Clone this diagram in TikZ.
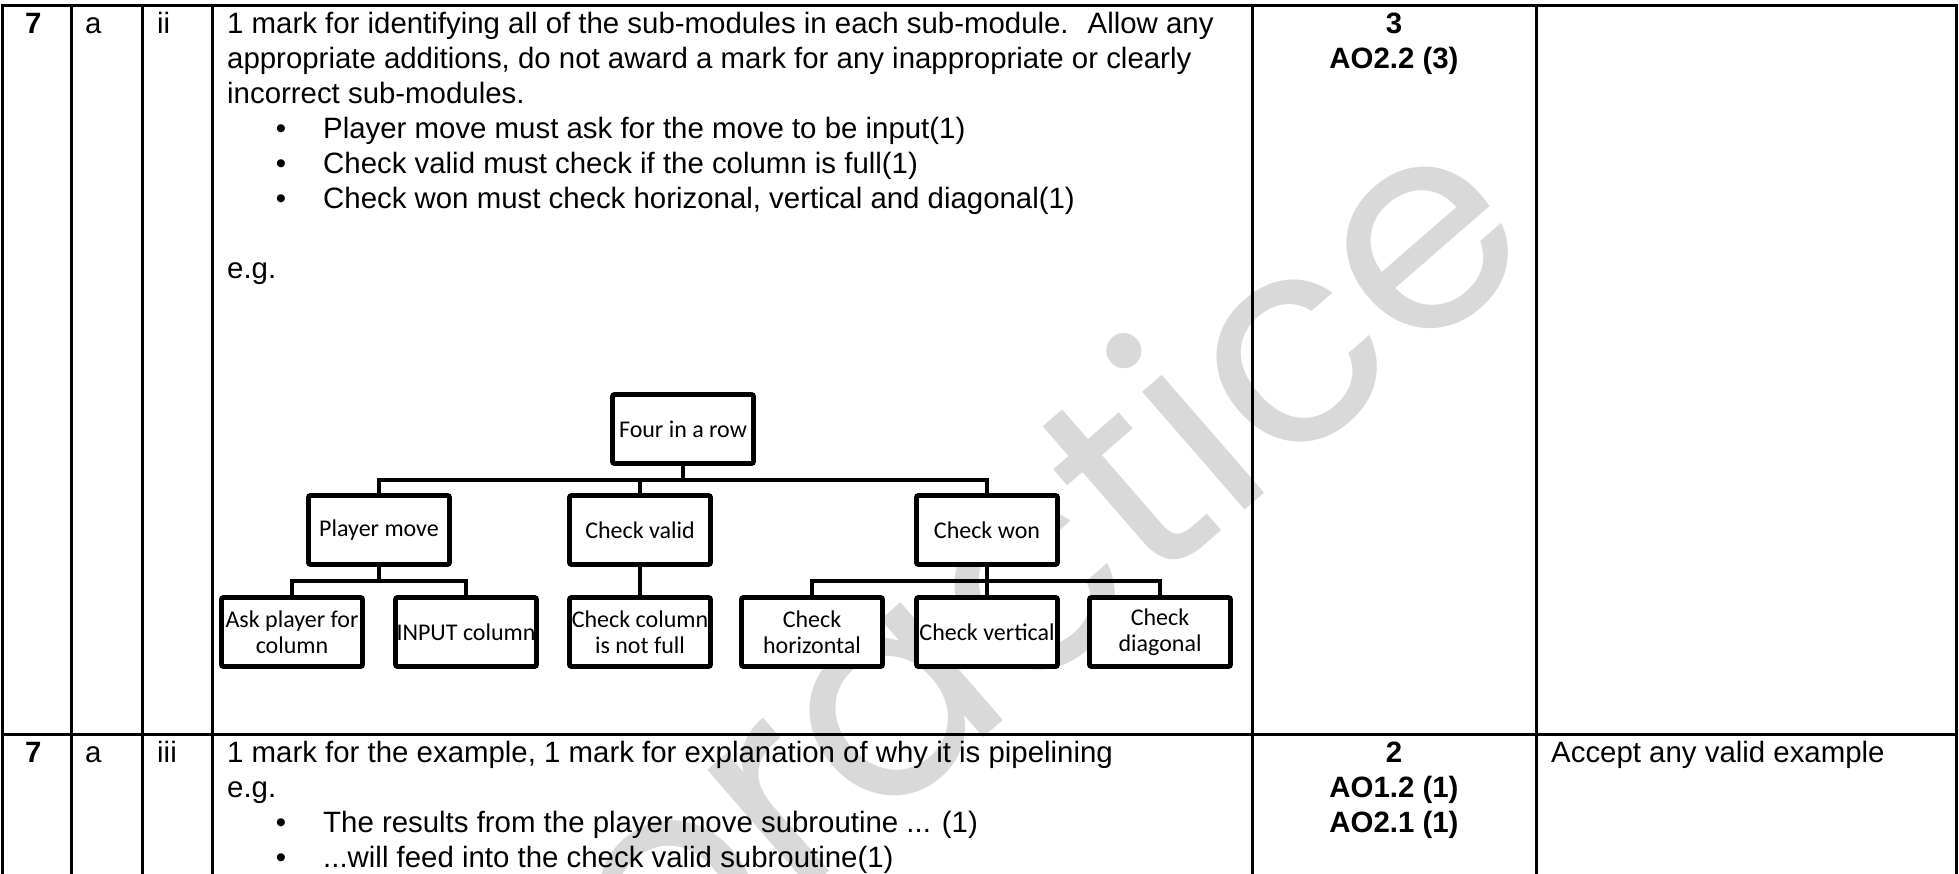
\documentclass[tikz,border=0pt]{standalone}
\usepackage{fontspec}
\setmainfont{Liberation Sans}
\newfontfamily\diafont{Carlito}
\newfontfamily\wmfont{Poppins}
\definecolor{wmgray}{RGB}{217,217,217}
\tikzset{
  tline/.style={line width=3pt},
  mbox/.style={draw, line width=4.8pt, rounded corners=2pt, fill=white,
    minimum width=141pt, minimum height=69pt, inner sep=0pt, align=center,
    font=\diafont\fontsize{24}{26}\selectfont},
  conn/.style={line width=4.8pt},
  txt/.style={anchor=base west, inner sep=0pt, font=\fontsize{29.4}{35}\selectfont},
  btxt/.style={anchor=base west, inner sep=0pt, font=\bfseries\fontsize{29.4}{35}\selectfont},
  ctxt/.style={anchor=base, inner sep=0pt, font=\bfseries\fontsize{29.4}{35}\selectfont},
  bul/.style={anchor=base, inner sep=0pt, font=\fontsize{29.4}{35}\selectfont},
  wm/.style={text=wmgray, inner sep=0pt, font=\wmfont\fontsize{285}{285}\selectfont}
}
\begin{document}
\begin{tikzpicture}[x=1pt, y=-1pt]
\useasboundingbox (0,0) rectangle (1959,874);
% watermark
\node[wm, rotate=41] (wmark) at (1050,585) {practice};
% table lines
\draw[tline] (2,874) -- (2,6) -- (1956,6) -- (1956,874);
\foreach \cx in {71,142,212,1252,1536} \draw[tline] (\cx,6) -- (\cx,874);
\draw[tline] (2,734) -- (1956,734);
% row 1 labels
\node[btxt] (r1q) at (25,34) {7};
\node[txt] (r1p) at (85,34) {a};
\node[txt] (r1s) at (157,34) {ii};
\node[txt] (t1) at (227,34) {1 mark for identifying all of the sub-modules in each sub-module.~ Allow any};
\node[txt] (t2) at (227,69) {appropriate additions, do not award a mark for any inappropriate or clearly};
\node[txt] (t3) at (227,104) {incorrect sub-modules.};
\node[bul] (b1) at (281,139) {•};
\node[txt] (t4) at (323,139) {Player move must ask for the move to be input(1)};
\node[bul] (b2) at (281,174) {•};
\node[txt] (t5) at (323,174) {Check valid must check if the column is full(1)};
\node[bul] (b3) at (281,209) {•};
\node[txt] (t6) at (323,209) {Check won must check horizonal, vertical and diagonal(1)};
\node[txt] (t7) at (227,279) {e.g.};
\node[ctxt] (m1) at (1394,34) {3};
\node[ctxt] (m2) at (1394,69) {AO2.2 (3)};
% row 2
\node[btxt] (r2q) at (25,762) {7};
\node[txt] (r2p) at (85,762) {a};
\node[txt] (r2s) at (157,762) {iii};
\node[txt] (u1) at (227,762) {1 mark for the example, 1 mark for explanation of why it is pipelining};
\node[txt] (u2) at (227,797) {e.g.};
\node[bul] (c1) at (281,832) {•};
\node[txt] (u3) at (323,832) {The results from the player move subroutine ... (1)};
\node[bul] (c2) at (281,867) {•};
\node[txt] (u4) at (323,867) {...will feed into the check valid subroutine(1)};
\node[ctxt] (n1) at (1394,762) {2};
\node[ctxt] (n2) at (1394,797) {AO1.2 (1)};
\node[ctxt] (n3) at (1394,832) {AO2.1 (1)};
\node[txt] (g1) at (1551,762) {Accept any valid example};
% diagram
\coordinate (bus) at (0,480);
\coordinate (sbus) at (0,581);
\node[mbox] (four) at (683,429) {Four in a row};
\node[mbox] (player) at (379,530) {Player move};
\node[mbox] (valid) at (640,530) {Check valid};
\node[mbox] (won) at (987,530) {Check won};
\node[mbox] (ask) at (292,632) {Ask player for\\column};
\node[mbox] (inp) at (466,632) {INPUT column};
\node[mbox] (col) at (640,632) {Check column\\is not full};
\node[mbox] (hor) at (812,632) {Check\\horizontal};
\node[mbox] (ver) at (987,632) {Check vertical};
\node[mbox] (dia) at (1160,632) {Check\\diagonal};
\draw[conn] (four.south) -- (four.south |- bus);
\draw[conn] (player.north) -- (player.north |- bus) -- (won.north |- bus) -- (won.north);
\draw[conn] (valid.north) -- (valid.north |- bus);
\draw[conn] (player.south) -- (player.south |- sbus);
\draw[conn] (ask.north) -- (ask.north |- sbus) -- (inp.north |- sbus) -- (inp.north);
\draw[conn] (valid.south) -- (col.north);
\draw[conn] (won.south) -- (ver.north);
\draw[conn] (hor.north) -- (hor.north |- sbus) -- (dia.north |- sbus) -- (dia.north);
\end{tikzpicture}
\end{document}
